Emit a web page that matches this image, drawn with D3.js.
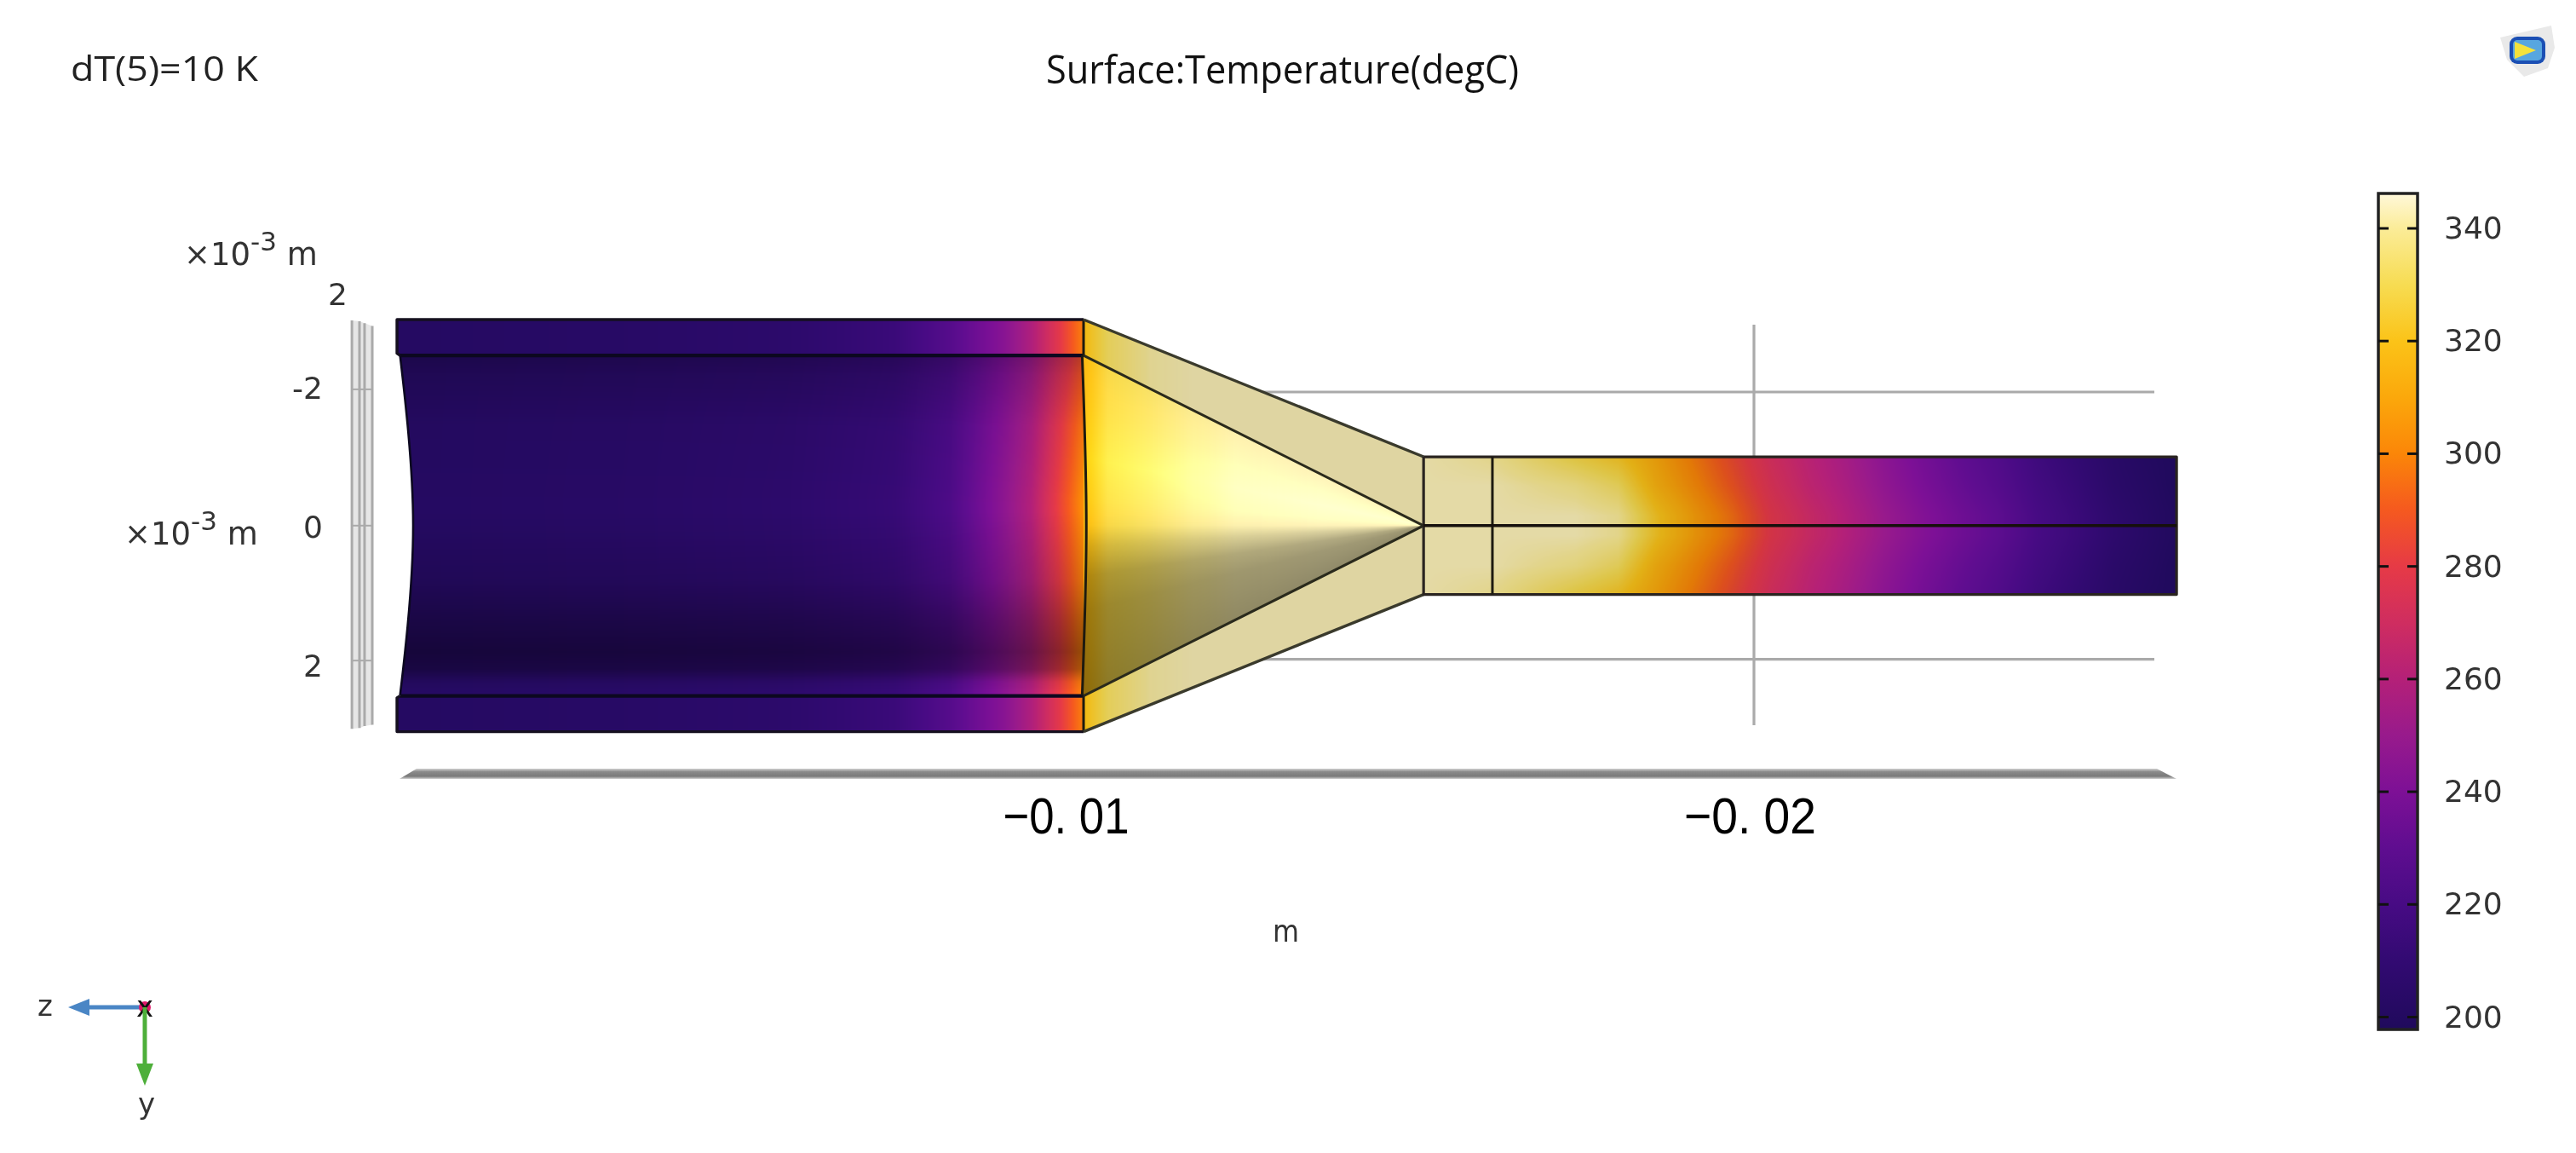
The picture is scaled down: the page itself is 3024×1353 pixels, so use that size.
<!DOCTYPE html>
<html><head><meta charset="utf-8">
<script src="https://cdn.jsdelivr.net/npm/d3@7"></script>
<style>
html,body{margin:0;padding:0;background:#fff;width:3024px;height:1353px;overflow:hidden}
#wrap{position:relative;width:3024px;height:1353px;filter:blur(0.7px)}
#wrap>*{position:absolute;left:0;top:0}
text{font-family:"DejaVu Sans";fill:#333}
</style></head><body><div id="wrap"></div>
<script>
// ---- axis ticks -------------------------------------------------------
const zTicks = [-10, -20];                 // ×10⁻³ m
const zTickLabels = ["−0. 01", "−0. 02"];
const yTicks = [-2, 0, 2];                 // ×10⁻³ m
const cbarTicks = [200, 220, 240, 260, 280, 300, 320, 340];
const cbarRange = [197.8, 346.2];
// ---- colour table (degC → colour) --------------------------------------
const cmapT = [197.8, 200, 210, 220, 230, 240, 250, 260, 270, 280, 290, 300, 310, 320, 330, 340, 346.2];
const cmapC = ["#1f0a5c","#230a60","#320a72","#470b84","#5f0d90","#7d1096","#981a8c","#b42078","#cf2d60","#e63a46","#f5591f","#fb8608","#fba80b","#fbc318","#f7dc52","#fbec98","#fff8da"];
// ---- geometry (axial z in mm, radial y in mm) --------------------------
const zLeft = -0.285, zJoin = -10.26, zNeck = -15.2, zStep = -16.2, zEnd = -26.14;
const rOuter = 3.084, rInner = 2.548, rNeck = 1.03;
const innerLeftZ = [-0.33, -0.44, -0.52, -0.44, -0.33];
const innerLeftY = [-2.548, -1.5, 0, 1.5, 2.54];
const innerRightZ = [-10.24, -10.30, -10.24];
const innerRightY = [-2.548, 0, 2.54];
// ---- pipe wall temperature along z --------------------------------------
const wallZ = [-0.285, -3.59, -5.95, -7.52, -8.32, -9.11, -9.50, -9.90, -10.26];
const wallT = [201, 203, 206, 214, 226, 244, 258, 278, 299];
// ---- inner pipe: temperature along z, shading across y -------------------
const pipeT = [201, 203, 206, 212, 222, 245, 258, 280, 300];
const pipeBulgeY = [-2.55, -1.5, -0.4, 0.8, 2.55];
const pipeBulge = [0.88, 0.97, 1.03, 1.0, 1.0];
const pipeShadeY = [-2.548, -2.255, -1.49, -0.214, 0.806, 1.444, 1.89, 2.146, 2.337, 2.54];
const pipeShade = [0.76, 0.86, 0.97, 1.0, 0.88, 0.70, 0.60, 0.68, 0.94, 1.04];
// ---- cone surfaces ------------------------------------------------------
const coneZ = [-10.26, -10.61, -11.23, -11.84, -12.46, -13.70, -15.20];
const coneInnerT = [316, 328, 333, 339, 342, 343, 343];
const coneBandT = [318, 332, 341, 343, 343, 343, 343];
const coneShadeU = [-1, -0.7, -0.4, -0.15, 0, 0.12, 0.3, 0.5, 1];
const coneShade = [1.0, 1.05, 1.12, 1.06, 1.0, 0.86, 0.70, 0.63, 0.57];
// ---- outlet tube: temperature along z, for rows across y -----------------
const tubeZ = [-15.2,-16.2,-17.41,-18.03,-18.59,-19.13,-19.69,-20.25,-20.79,-21.35,-21.89,-22.45,-23.01,-23.55,-24.11,-24.67,-25.21,-25.77,-26.14];
const tubeEdgeT = [343,340,328,322,310,298,285,271,262,254,245,237,230,224,216,210,204,200,198];
const tubeMidT = [343,343,338,332,314,302,289,274,264,256,247,239,232,226,218,212,205,201,198];
const tubeCoreT = [343,343,343,340,322,308,295,278,268,259,250,242,235,229,220,214,207,202,199];
// ---- back-plane grid lines ------------------------------------------------
const planeZ = [0.37, 0.26, 0.186, 0.074];
const planeTop = [-3.07, -3.06, -3.03, -2.99];
const planeBot = [3.04, 3.03, 3.0, 2.98];
const planeTickY = [-2.04, 0, 2.02];

const W = 3024, H = 1353;
const x = d3.scaleLinear().domain([-10, -20]).range([1251, 2059]);
const y = d3.scaleLinear().domain([-2, 2]).range([460, 773.6]);
const yLabel = d3.scaleLinear().domain([-2, 2]).range([455.5, 781.5]);
const color = d3.scaleLinear().domain(cmapT).range(cmapC).interpolate(d3.interpolateRgb).clamp(true);
const cbarY = d3.scaleLinear().domain([200, 340]).range([1193.5, 268]);

const wrap = d3.select("#wrap");
const back = wrap.append("svg").attr("width", W).attr("height", H);
const canvas = wrap.append("canvas").attr("width", W).attr("height", H).node();
const svg = wrap.append("svg").attr("width", W).attr("height", H);
const ctx = canvas.getContext("2d");

// ---- background grid ---------------------------------------------------
const grid = back.append("g").attr("stroke", "#aaa").attr("stroke-width", 3.2).attr("fill", "none");
grid.selectAll(".h").data([-2, 2]).join("line")
  .attr("x1", x(-12)).attr("x2", 2529).attr("y1", d => y(d)).attr("y2", d => y(d));
grid.append("line").attr("x1", x(-20)).attr("x2", x(-20)).attr("y1", 381).attr("y2", 851);
const planePts = planeZ.map((z, i) => [x(z), y(planeTop[i])]).concat(planeZ.map((z, i) => [x(z), y(planeBot[i])]).reverse());
back.append("polygon").attr("points", planePts.join(" ")).attr("fill", "#e6e6e6");
back.selectAll(".pl").data(planeZ).join("line")
  .attr("x1", d => x(d)).attr("x2", d => x(d))
  .attr("y1", (d, i) => y(planeTop[i])).attr("y2", (d, i) => y(planeBot[i]))
  .attr("stroke", "#aaa").attr("stroke-width", 3);
back.selectAll(".pt").data(planeTickY).join("line")
  .attr("x1", x(planeZ[0])).attr("x2", x(planeZ[3]))
  .attr("y1", d => y(d)).attr("y2", d => y(d)).attr("stroke", "#aaa").attr("stroke-width", 2);

// axis bar
const barGrad = back.append("defs").append("linearGradient").attr("id", "bar").attr("x1", 0).attr("x2", 0).attr("y1", 0).attr("y2", 1);
[[0, "#d0d0d0"], [0.3, "#8a8a8a"], [0.75, "#7a7a7a"], [1, "#d0d0d0"]].forEach(s => barGrad.append("stop").attr("offset", s[0]).attr("stop-color", s[1]));
back.append("polygon").attr("fill", "url(#bar)")
  .attr("points", [[x(zLeft) + 3, 914], [x(zLeft) + 23, 902], [2532, 902], [2555, 914]].join(" "));

// ---- surface fields ------------------------------------------------------
function paint(pathFn, fieldFn) {
  const tmp = document.createElement("canvas");
  const x0 = 450, y0 = 360, w = 2120, h = 520;
  tmp.width = w; tmp.height = h;
  const t = tmp.getContext("2d");
  const img = t.createImageData(w, h);
  const box = fieldFn.box;
  for (let j = Math.max(0, box[1] - y0); j < Math.min(h, box[3] - y0); j++) {
    const yy = y.invert(j + y0 + 0.5);
    for (let i = Math.max(0, box[0] - x0); i < Math.min(w, box[2] - x0); i++) {
      const zz = x.invert(i + x0 + 0.5);
      const r = fieldFn(zz, yy);
      const c = d3.rgb(color(r[0]));
      const o = (j * w + i) * 4;
      img.data[o] = Math.min(255, c.r * r[1]);
      img.data[o + 1] = Math.min(255, c.g * r[1]);
      img.data[o + 2] = Math.min(255, c.b * r[1]);
      img.data[o + 3] = 255;
    }
  }
  t.putImageData(img, 0, 0);
  ctx.save();
  ctx.clip(new Path2D(pathFn));
  ctx.drawImage(tmp, x0, y0);
  ctx.restore();
}
const P = (pts) => "M" + pts.map(p => [x(p[0]), y(p[1])].join(",")).join("L") + "Z";
const curve = d3.line().x(p => x(p[0])).y(p => y(p[1])).curve(d3.curveNatural);

const wallScale = d3.scaleLinear().domain(wallZ).range(wallT).clamp(true);
const pipeScale = d3.scaleLinear().domain(wallZ).range(pipeT).clamp(true);
const pipeBulgeScale = d3.scaleLinear().domain(pipeBulgeY).range(pipeBulge).clamp(true);
const pipeShadeScale = d3.scaleLinear().domain(pipeShadeY).range(pipeShade).clamp(true);
const coneInnerScale = d3.scaleLinear().domain(coneZ).range(coneInnerT).clamp(true);
const coneBandScale = d3.scaleLinear().domain(coneZ).range(coneBandT).clamp(true);
const coneShadeScale = d3.scaleLinear().domain(coneShadeU).range(coneShade).clamp(true);
const coneR = d3.scaleLinear().domain([zJoin, zNeck]).range([rInner, 0]).clamp(true);
const edge = d3.scaleLinear().domain(tubeZ).range(tubeEdgeT).clamp(true);
const mid = d3.scaleLinear().domain(tubeZ).range(tubeMidT).clamp(true);
const core = d3.scaleLinear().domain(tubeZ).range(tubeCoreT).clamp(true);

const wallF = (z, yy) => [wallScale(z), 1];
wallF.box = [460, 370, 1280, 865];
const pipeF = (z, yy) => [201 + (pipeScale(z) - 201) * pipeBulgeScale(yy), pipeShadeScale(yy)];
pipeF.box = [460, 410, 1285, 825];
const bandShade = d3.scaleLinear().domain([318, 343]).range([0.97, 0.88]).clamp(true);
const bandF = (z, yy) => {
  const t = coneBandScale(z);
  return [t, bandShade(t)];
};
bandF.box = [1260, 370, 1680, 865];
const coneF = (z, yy) => {
  const r = Math.max(coneR(z), 0.02);
  return [coneInnerScale(z), coneShadeScale(yy / r)];
};
coneF.box = [1260, 410, 1680, 825];
const tubeCoreMix = d3.scaleLinear().domain([0.15, 0.6]).range([0, 1]).clamp(true);
const tubeEdgeMix = d3.scaleLinear().domain([0.6, 1.03]).range([0, 1]).clamp(true);
const tubeShade = d3.scaleLinear().domain([260, 285]).range([1, 0.9]).clamp(true);
const tubeF = (z, yy) => {
  const a = Math.abs(yy);
  const t = a < 0.6
    ? d3.interpolateNumber(core(z), mid(z))(tubeCoreMix(a))
    : d3.interpolateNumber(mid(z), edge(z))(tubeEdgeMix(a));
  return [t, tubeShade(t)];
};
tubeF.box = [1660, 530, 2560, 705];

const innerPts = innerLeftZ.map((z, i) => [z, innerLeftY[i]]);
const rightPts = innerRightZ.map((z, i) => [z, innerRightY[i]]).reverse();
paint(P([[zLeft, -rOuter], [zJoin, -rOuter], [zJoin, -rInner], [innerLeftZ[0], -rInner], [zLeft, -rInner - 0.03]]), wallF);
paint(P([[zLeft, rOuter], [zJoin, rOuter], [zJoin, rInner], [innerLeftZ[4], rInner], [zLeft, rInner + 0.03]]), wallF);
const pipePath = curve(innerPts) + "L" + curve(rightPts).slice(1) + "Z";
paint(pipePath, pipeF);
const topBand = P([[zJoin, -rOuter], [zNeck, -rNeck], [zNeck, rNeck], [zJoin, rOuter]]);
paint(topBand, bandF);
paint("M" + x(-10.24) + "," + y(-rInner) + " Q" + x(-10.36) + "," + y(0) + " " + x(-10.24) + "," + y(rInner) + "L" + x(zNeck) + "," + y(0) + "Z", coneF);
paint(P([[zNeck, -rNeck], [zEnd, -rNeck], [zEnd, rNeck], [zNeck, rNeck]]), tubeF);

// ---- geometry edges -------------------------------------------------------
const edges = svg.append("g").attr("fill", "none").attr("stroke-linejoin", "round");
const seg = (pts, col, w) => edges.append("path")
  .attr("d", "M" + pts.map(p => [x(p[0]), y(p[1])].join(",")).join("L"))
  .attr("stroke", col).attr("stroke-width", w);
seg([[innerLeftZ[0], -rInner], [zLeft, -rInner - 0.03], [zLeft, -rOuter], [zJoin, -rOuter]], "#15101f", 3.4);
seg([[innerLeftZ[4], rInner], [zLeft, rInner + 0.03], [zLeft, rOuter], [zJoin, rOuter]], "#15101f", 3.4);
seg([[innerLeftZ[0], -rInner], [zJoin, -rInner]], "#0c0820", 4.2);
seg([[innerLeftZ[4], rInner], [zJoin, rInner]], "#0c0820", 4.2);
seg([[zJoin, -rOuter], [zJoin, -rInner]], "#1d1a10", 3);
seg([[zJoin, rOuter], [zJoin, rInner]], "#1d1a10", 3);
edges.append("path").attr("d", curve(innerPts)).attr("stroke", "#0c0820").attr("stroke-width", 2.6);
edges.append("path").attr("d", curve(rightPts)).attr("stroke", "#1d1a10").attr("stroke-width", 3);
seg([[zJoin, -rOuter], [zNeck, -rNeck]], "#3a3a2c", 3.4);
seg([[zJoin, rOuter], [zNeck, rNeck]], "#3a3a2c", 3.4);
seg([[zJoin, -rInner], [zNeck, 0]], "#2a2a1c", 3);
seg([[zJoin, rInner], [zNeck, 0]], "#2a2a1c", 3);
seg([[zNeck, -rNeck], [zEnd, -rNeck], [zEnd, rNeck], [zNeck, rNeck], [zNeck, -rNeck]], "#2a2420", 3.2);
seg([[zStep, -rNeck], [zStep, rNeck]], "#1d1a10", 3);
seg([[zNeck, 0], [zEnd, 0]], "#16100c", 3.6);

// ---- text ---------------------------------------------------------------
const label = (t, xp, yb, size, len, font, col) => svg.append("text")
  .attr("x", xp).attr("y", yb).attr("font-size", size)
  .style("font-family", font || "DejaVu Sans").style("fill", col || "#333")
  .attr("textLength", len).attr("lengthAdjust", "spacingAndGlyphs").text(t);
label("dT(5)=10 K", 83, 95, 40, 220, "Open Sans", "#222");
label("Surface:Temperature(degC)", 1228, 98, 46, 555, "Open Sans", "#111");
label("m", 1494, 1105, 36, 31, "DejaVu Sans");

function powerLabel(xp, yb) {
  const t = svg.append("text").attr("x", xp).attr("y", yb).attr("font-size", 37);
  t.append("tspan").text("×10");
  t.append("tspan").attr("dy", -17).attr("font-size", 31).text("-3");
  t.append("tspan").attr("dy", 17).text(" m");
}
powerLabel(216, 311);
powerLabel(146, 639);
label("2", 385, 358, 36);

const yAxis = d3.axisLeft(yLabel).tickValues(yTicks).tickSize(0).tickPadding(0).tickFormat(d3.format("d"));
const gy = svg.append("g").attr("transform", "translate(379,0)").call(yAxis);
gy.select(".domain").remove();
gy.selectAll("text").attr("font-size", 36).attr("font-family", "DejaVu Sans").style("fill", "#333").text(d => d < 0 ? "-" + (-d) : d);

const xAxis = d3.axisBottom(x).tickValues(zTicks).tickSize(0).tickPadding(0).tickFormat((d, i) => zTickLabels[i]);
const gx = svg.append("g").attr("transform", "translate(0,935)").call(xAxis);
gx.select(".domain").remove();
gx.selectAll("text").attr("font-size", 60).style("font-family", "Liberation Sans").style("fill", "#000")
  .attr("dy", 43).attr("y", 0).attr("dx", (d, i) => i ? -5 : 0).attr("textLength", (d, i) => i ? 155 : 148).attr("lengthAdjust", "spacingAndGlyphs");

// ---- colour bar -----------------------------------------------------------
const defs = svg.append("defs");
const cg = defs.append("linearGradient").attr("id", "cbar").attr("x1", 0).attr("x2", 0).attr("y1", 1).attr("y2", 0);
const cbarPos = d3.scaleLinear().domain(cbarRange).range([0, 1]);
cg.selectAll("stop").data(cmapT).join("stop")
  .attr("offset", d => cbarPos(d)).attr("stop-color", d => color(d));
const barX0 = 2792, barX1 = 2838;
svg.append("rect").attr("x", barX0).attr("width", barX1 - barX0)
  .attr("y", cbarY(cbarRange[1])).attr("height", cbarY(cbarRange[0]) - cbarY(cbarRange[1]))
  .attr("fill", "url(#cbar)").attr("stroke", "#222").attr("stroke-width", 3.5);
const cAxis = d3.axisRight(cbarY).tickValues(cbarTicks).tickSize(0).tickPadding(0).tickFormat(d3.format("d"));
const gc = svg.append("g").attr("transform", "translate(2869,0)").call(cAxis);
gc.select(".domain").remove();
gc.selectAll("text").attr("font-size", 36).attr("font-family", "DejaVu Sans").style("fill", "#333");
svg.selectAll(".tkl").data(cbarTicks).join("line").attr("x1", barX0).attr("x2", barX0 + 12)
  .attr("y1", d => cbarY(d)).attr("y2", d => cbarY(d)).attr("stroke", "#111").attr("stroke-width", 3);
svg.selectAll(".tkr").data(cbarTicks).join("line").attr("x1", barX1 - 12).attr("x2", barX1)
  .attr("y1", d => cbarY(d)).attr("y2", d => cbarY(d)).attr("stroke", "#111").attr("stroke-width", 3);

// ---- triad ------------------------------------------------------------------
const tx = 170, ty = 1182;
svg.append("path").attr("d", d3.line()([[tx, ty], [104, ty]])).attr("stroke", "#4a86c5").attr("stroke-width", 5);
svg.append("polygon").attr("points", [[80, ty], [105, ty - 10], [105, ty + 10]].join(" ")).attr("fill", "#4a86c5");
svg.append("circle").attr("cx", tx).attr("cy", ty).attr("r", 7).attr("fill", "#e0186a");
svg.append("text").attr("x", tx).attr("y", ty + 11).attr("font-size", 34).attr("text-anchor", "middle").style("fill", "#111").text("x");
svg.append("path").attr("d", d3.line()([[tx, ty], [tx, 1250]])).attr("stroke", "#4eaf3a").attr("stroke-width", 5);
svg.append("polygon").attr("points", [[tx, 1274], [tx - 10, 1248], [tx + 10, 1248]].join(" ")).attr("fill", "#4eaf3a");
svg.append("text").attr("x", 53).attr("y", 1192).attr("font-size", 34).attr("text-anchor", "middle").text("z");
svg.append("text").attr("x", 172).attr("y", 1307).attr("font-size", 34).attr("text-anchor", "middle").text("y");

// ---- logo -------------------------------------------------------------------
const logo = svg.append("g").attr("transform", "translate(2967,44)");
logo.append("path").attr("d", "M-32,0 L28,-14 L32,12 L24,36 L-4,46 L-24,26 Z").attr("fill", "#e9e9e9");
logo.append("rect").attr("x", -21).attr("y", -1).attr("width", 42).attr("height", 32).attr("rx", 9).attr("fill", "#1b4fb4");
logo.append("rect").attr("x", -17).attr("y", 3).attr("width", 34).attr("height", 24).attr("rx", 5).attr("fill", "#57a6e0");
logo.append("polygon").attr("points", "-15,5 10,15 -15,25").attr("fill", "#f4e23c");
</script></body></html>
